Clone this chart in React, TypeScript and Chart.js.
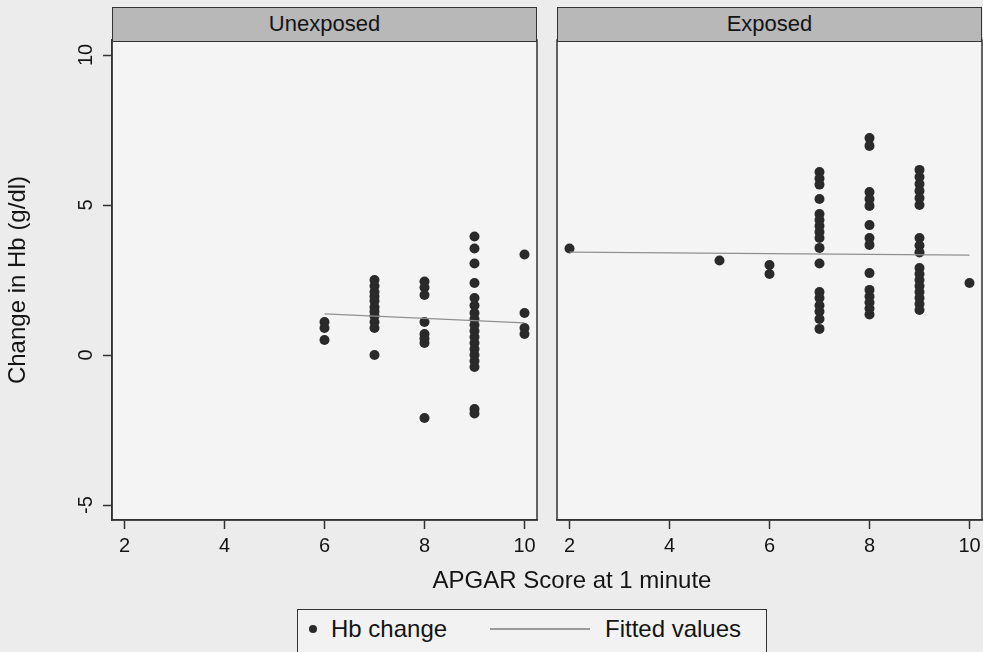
import React, { useEffect, useRef } from "react";
import { Chart, registerables } from "chart.js";

Chart.register(...registerables);

const FONT = "'Liberation Sans', Arial, Helvetica, sans-serif";

// Axis ticks and ranges
const xTicks = [2, 4, 6, 8, 10];
const yTicks = [-5, 0, 5, 10];
const xMin = 1.75;
const xMax = 10.25;
const yMin = -5.5;
const yMax = 10.5;

// Unexposed panel: APGAR score columns and Hb change values per column
const unexposedScores = [6, 7, 8, 9, 10];
const unexposedHb6 = [1.1, 0.9, 0.5];
const unexposedHb7 = [2.5, 2.3, 2.1, 1.95, 1.8, 1.6, 1.45, 1.3, 1.1, 0.9, 0.0];
const unexposedHb8 = [2.45, 2.25, 2.0, 1.1, 0.7, 0.55, 0.4, -2.1];
const unexposedHb9 = [3.95, 3.55, 3.05, 2.4, 1.9, 1.65, 1.4, 1.2, 1.0, 0.8, 0.6, 0.4, 0.2, 0.0, -0.2, -0.4, -1.8, -1.95];
const unexposedHb10 = [3.35, 1.4, 0.9, 0.7];
const unexposedFitX = [6, 10];
const unexposedFitY = [1.37, 1.07];

// Exposed panel
const exposedScores = [2, 5, 6, 7, 8, 9, 10];
const exposedHb2 = [3.55];
const exposedHb5 = [3.15];
const exposedHb6 = [3.0, 2.7];
const exposedHb7 = [6.1, 5.88, 5.68, 5.2, 4.7, 4.5, 4.3, 4.1, 3.9, 3.57, 3.05, 2.1, 1.9, 1.65, 1.45, 1.2, 0.87];
const exposedHb8 = [7.23, 6.97, 5.43, 5.2, 4.97, 4.33, 3.9, 3.67, 2.73, 2.17, 1.95, 1.75, 1.55, 1.35];
const exposedHb9 = [6.17, 5.93, 5.7, 5.47, 5.23, 5.0, 3.9, 3.65, 3.42, 2.9, 2.7, 2.5, 2.3, 2.1, 1.9, 1.7, 1.5];
const exposedHb10 = [2.4];
const exposedFitX = [2, 10];
const exposedFitY = [3.43, 3.33];

const unexposedValues = [unexposedHb6, unexposedHb7, unexposedHb8, unexposedHb9, unexposedHb10];
const exposedValues = [exposedHb2, exposedHb5, exposedHb6, exposedHb7, exposedHb8, exposedHb9, exposedHb10];

const PAGE_BG = "#ececec";
const PLOT_BG = "#f4f4f4";
const INK = "#141414";
const FRAME = "#333333";

function toPoints(scores: number[], values: number[][]) {
  const pts: { x: number; y: number }[] = [];
  scores.forEach((s, i) => values[i].forEach((v) => pts.push({ x: s, y: v })));
  return pts;
}

const framePlugin = {
  id: "panelFrame",
  beforeDraw(chart: any) {
    const { ctx, chartArea: a } = chart;
    ctx.save();
    ctx.fillStyle = PLOT_BG;
    ctx.fillRect(a.left, a.top, a.right - a.left, a.bottom - a.top);
    ctx.restore();
  },
  afterDraw(chart: any) {
    const { ctx, chartArea: a } = chart;
    ctx.save();
    ctx.strokeStyle = FRAME;
    ctx.lineWidth = 1.5;
    ctx.strokeRect(a.left, a.top, a.right - a.left, a.bottom - a.top);
    ctx.restore();
  },
};

type PanelProps = {
  left: number;
  width: number;
  showY: boolean;
  padLeft: number;
  padRight: number;
  scores: number[];
  values: number[][];
  fitX: number[];
  fitY: number[];
};

function Panel(p: PanelProps) {
  const ref = useRef<HTMLCanvasElement | null>(null);
  useEffect(() => {
    if (!ref.current) return;
    const tickGrid = {
      drawOnChartArea: false,
      drawTicks: true,
      tickLength: 9,
      tickColor: FRAME,
      tickWidth: 1.5,
    };
    const chart = new Chart(ref.current, {
      type: "scatter",
      data: {
        datasets: [
          {
            label: "Hb change",
            data: toPoints(p.scores, p.values),
            pointRadius: 5,
            pointBackgroundColor: "#2a2a2a",
            pointBorderWidth: 0,
            order: 2,
          },
          {
            label: "Fitted values",
            data: p.fitX.map((x, i) => ({ x, y: p.fitY[i] })),
            showLine: true,
            borderColor: "#8f8f8f",
            borderWidth: 1.3,
            pointRadius: 0,
            order: 1,
          },
        ],
      },
      options: {
        responsive: false,
        maintainAspectRatio: false,
        animation: false,
        layout: { padding: { top: 40, left: p.padLeft, right: p.padRight, bottom: 0 } },
        plugins: { legend: { display: false }, tooltip: { enabled: false } },
        scales: {
          x: {
            type: "linear",
            min: xMin,
            max: xMax,
            afterBuildTicks: (s: any) => {
              s.ticks = xTicks.map((v) => ({ value: v }));
            },
            afterFit: (s: any) => {
              s.height = 60;
            },
            grid: tickGrid,
            border: { display: true, color: FRAME, width: 1.5 },
            ticks: {
              font: { family: FONT, size: 20 },
              color: INK,
              padding: 5,
              maxRotation: 0,
              autoSkip: false,
            },
          },
          y: {
            type: "linear",
            display: p.showY,
            min: yMin,
            max: yMax,
            afterBuildTicks: (s: any) => {
              s.ticks = yTicks.map((v) => ({ value: v }));
            },
            afterFit: (s: any) => {
              s.width = p.showY ? 112 : 0;
            },
            grid: tickGrid,
            border: { display: true, color: FRAME, width: 1.5 },
            ticks: {
              font: { family: FONT, size: 20 },
              color: INK,
              minRotation: 90,
              maxRotation: 90,
              crossAlign: "center",
              padding: 5,
              autoSkip: false,
            },
            title: {
              display: true,
              text: "Change in Hb (g/dl)",
              font: { family: FONT, size: 24 },
              color: INK,
              padding: { top: 4, bottom: 0 },
            },
          },
        },
      } as any,
      plugins: [framePlugin],
    });
    return () => chart.destroy();
  }, []);
  return (
    <canvas
      ref={ref}
      width={p.width}
      height={580}
      style={{ position: "absolute", left: p.left, top: 0, width: p.width, height: 580 }}
    />
  );
}

const headerStyle = (left: number): React.CSSProperties => ({
  position: "absolute",
  left,
  top: 7,
  width: 425,
  height: 34.5,
  boxSizing: "border-box",
  border: `1.5px solid ${FRAME}`,
  background: "#b8b8b8",
  color: INK,
  fontFamily: FONT,
  fontSize: 22,
  lineHeight: "31px",
  textAlign: "center",
});

export default function App() {
  return (
    <div
      style={{
        position: "fixed",
        left: 0,
        top: 0,
        width: 983,
        height: 652,
        overflow: "hidden",
        background: PAGE_BG,
      }}
    >
      <Panel
        left={0}
        width={545}
        showY={true}
        padLeft={0}
        padRight={8}
        scores={unexposedScores}
        values={unexposedValues}
        fitX={unexposedFitX}
        fitY={unexposedFitY}
      />
      <Panel
        left={549}
        width={440}
        showY={false}
        padLeft={8}
        padRight={7}
        scores={exposedScores}
        values={exposedValues}
        fitX={exposedFitX}
        fitY={exposedFitY}
      />
      <div style={headerStyle(112)}>Unexposed</div>
      <div style={headerStyle(557)}>Exposed</div>
      <div
        style={{
          position: "absolute",
          left: 572,
          top: 565,
          transform: "translateX(-50%)",
          whiteSpace: "nowrap",
          fontFamily: FONT,
          fontSize: 24,
          lineHeight: "30px",
          color: INK,
        }}
      >
        APGAR Score at 1 minute
      </div>
      <div
        style={{
          position: "absolute",
          left: 297,
          top: 609,
          width: 470,
          height: 60,
          boxSizing: "border-box",
          border: `1.5px solid ${FRAME}`,
          background: "#f2f2f2",
        }}
      />
      <div
        style={{
          position: "absolute",
          left: 309,
          top: 625,
          width: 8,
          height: 8,
          borderRadius: "50%",
          background: "#2a2a2a",
        }}
      />
      <div
        style={{
          position: "absolute",
          left: 331,
          top: 614,
          whiteSpace: "nowrap",
          fontFamily: FONT,
          fontSize: 24,
          lineHeight: "30px",
          color: INK,
        }}
      >
        Hb change
      </div>
      <div
        style={{
          position: "absolute",
          left: 490,
          top: 628,
          width: 100,
          height: 1.5,
          background: "#9a9a9a",
        }}
      />
      <div
        style={{
          position: "absolute",
          left: 605,
          top: 614,
          whiteSpace: "nowrap",
          fontFamily: FONT,
          fontSize: 24,
          lineHeight: "30px",
          color: INK,
        }}
      >
        Fitted values
      </div>
    </div>
  );
}
